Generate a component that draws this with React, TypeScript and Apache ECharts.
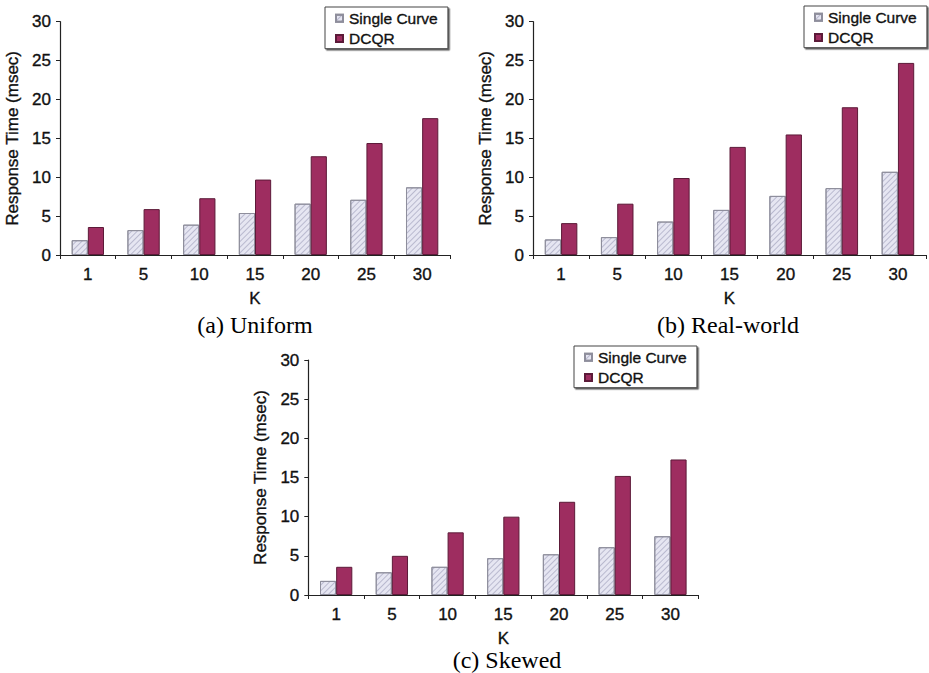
import React, { useEffect, useRef } from "react";
import * as echarts from "echarts";

const categories = ["1", "5", "10", "15", "20", "25", "30"];
const yTicks = [0, 5, 10, 15, 20, 25, 30];

const uniformSingle = [1.9, 3.2, 3.9, 5.4, 6.6, 7.1, 8.7];
const uniformDCQR = [3.6, 5.9, 7.3, 9.7, 12.7, 14.4, 17.6];

const realSingle = [2.0, 2.3, 4.3, 5.8, 7.6, 8.6, 10.7];
const realDCQR = [4.1, 6.6, 9.9, 13.9, 15.5, 19.0, 24.7];

const skewSingle = [1.8, 2.9, 3.6, 4.7, 5.2, 6.1, 7.5];
const skewDCQR = [3.6, 5.0, 8.0, 10.0, 11.9, 15.2, 17.3];

const captions = ["(a) Uniform", "(b) Real-world", "(c) Skewed"];
const seriesNames = ["Single Curve", "DCQR"];

const SANS = '"Liberation Sans", Arial, Helvetica, sans-serif';
const SERIF = '"Liberation Serif", "Times New Roman", serif';

const panels = [
  { single: uniformSingle, dcqr: uniformDCQR, grid: { left: 60, top: 21.7, width: 390, height: 233.3 }, legend: { left: 325, top: 7 }, caption: { x: 255, y: 325 } },
  { single: realSingle, dcqr: realDCQR, grid: { left: 533, top: 21.7, width: 393, height: 233.3 }, legend: { left: 804, top: 6 }, caption: { x: 728, y: 325 } },
  { single: skewSingle, dcqr: skewDCQR, grid: { left: 308.3, top: 360, width: 390, height: 235 }, legend: { left: 574, top: 346 }, caption: { x: 507, y: 660 } },
];

export default function App() {
  const ref = useRef<HTMLDivElement>(null);
  useEffect(() => {
    if (!ref.current) return;
    const chart = echarts.init(ref.current, undefined, { renderer: "svg" });
    const singleStyle = {
      color: "#e6e6f2",
      borderColor: "#8e8e9c",
      borderWidth: 1,
      decal: {
        symbol: "rect",
        symbolSize: 1,
        color: "rgba(130,130,165,0.45)",
        dashArrayX: [1, 0],
        dashArrayY: [1, 3],
        rotation: -Math.PI / 4,
      },
    };
    const dcqrStyle = { color: "#9e2d60", borderColor: "#5c1a38", borderWidth: 1 };
    const sansText = (size: number) => ({
      fontFamily: SANS,
      fontSize: size,
      color: "#111",
      textBorderColor: "#111",
      textBorderWidth: 0.35,
    });

    const option: any = {
      animation: false,
      backgroundColor: "#ffffff",
      grid: panels.map((p) => ({ ...p.grid, containLabel: false })),
      xAxis: panels.map((_, i) => ({
        type: "category",
        gridIndex: i,
        data: categories,
        name: "K",
        nameLocation: "middle",
        nameGap: 35,
        nameTextStyle: sansText(17),
        axisLine: { lineStyle: { color: "#222", width: 1.2 } },
        axisTick: { show: true, length: 4, inside: false, lineStyle: { color: "#222" } },
        axisLabel: { ...sansText(17), margin: 11 },
        splitLine: { show: false },
      })),
      yAxis: panels.map((_, i) => ({
        type: "value",
        gridIndex: i,
        min: 0,
        max: 30,
        interval: 5,
        name: "Response Time (msec)",
        nameLocation: "middle",
        nameGap: 39,
        nameRotate: 90,
        nameTextStyle: sansText(17),
        axisLine: { show: true, lineStyle: { color: "#222", width: 1.2 } },
        axisTick: { show: true, length: 4, inside: false, lineStyle: { color: "#222" } },
        axisLabel: { ...sansText(17), margin: 9, customValues: yTicks },
        splitLine: { show: false },
      })),
      legend: panels.map((p) => ({
        left: p.legend.left,
        top: p.legend.top,
        orient: "vertical",
        data: seriesNames,
        itemWidth: 7,
        itemHeight: 7,
        itemGap: 4,
        padding: [3, 10, 2, 10],
        borderColor: "#444",
        borderWidth: 1,
        backgroundColor: "#fff",
        shadowColor: "rgba(60,60,60,0.8)",
        shadowOffsetX: 1.5,
        shadowOffsetY: 1.5,
        shadowBlur: 0,
        textStyle: { ...sansText(15.5), padding: [0, 0, 0, 1] },
        icon: "rect",
      })),
      series: panels.flatMap((p, i) => [
        {
          name: seriesNames[0],
          type: "bar",
          xAxisIndex: i,
          yAxisIndex: i,
          data: p.single,
          barGap: "0%",
          barCategoryGap: "42%",
          itemStyle: singleStyle,
        },
        {
          name: seriesNames[1],
          type: "bar",
          xAxisIndex: i,
          yAxisIndex: i,
          data: p.dcqr,
          barGap: "0%",
          barCategoryGap: "42%",
          itemStyle: dcqrStyle,
        },
      ]),
      graphic: panels.map((p, i) => ({
        type: "text",
        x: p.caption.x,
        y: p.caption.y,
        style: {
          text: captions[i],
          font: `24px ${SERIF}`,
          fill: "#000",
          align: "center",
          verticalAlign: "middle",
          textAlign: "center",
          textVerticalAlign: "middle",
        },
      })),
    };
    chart.setOption(option);
    return () => chart.dispose();
  }, []);
  return (
    <div
      ref={ref}
      style={{ position: "fixed", left: 0, top: 0, width: 929, height: 673, background: "#fff" }}
    />
  );
}
